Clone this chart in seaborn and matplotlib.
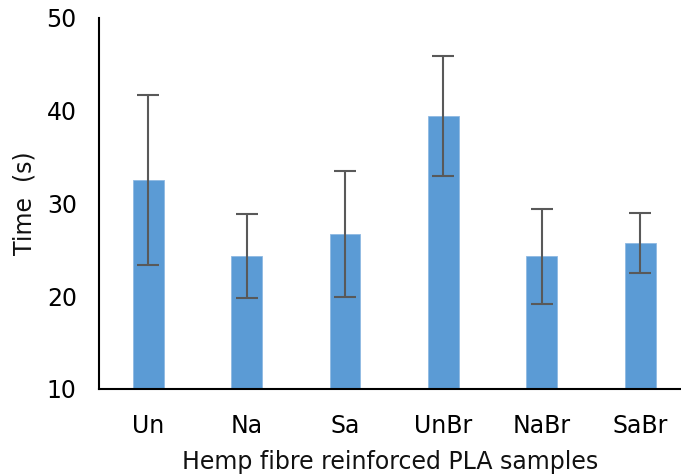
import matplotlib
matplotlib.use("Agg")
import matplotlib.pyplot as plt
import seaborn as sns
import pandas as pd

categories = ["Un", "Na", "Sa", "UnBr", "NaBr", "SaBr"]
means = [32.5, 24.3, 26.7, 39.4, 24.3, 25.7]
errors = [9.2, 4.5, 6.8, 6.5, 5.1, 3.25]
yticks = [10, 20, 30, 40, 50]

sns.set_theme(style="white")
plt.rcParams["font.family"] = ["DejaVu Sans"]

df = pd.DataFrame({"sample": categories, "time": means, "err": errors})

fig = plt.figure(figsize=(6.81, 4.76), dpi=100)
ax = fig.add_axes([99/681, (476-389)/476, (681-99)/681, (389-17.5)/476])

sns.barplot(data=df, x="sample", y="time", color="#5B9BD5", saturation=1,
            width=0.315, ax=ax, errorbar=None)
for p in ax.patches:
    p.set_edgecolor("#8FB9E3")
    p.set_linewidth(0.6)
ax.errorbar(range(len(categories)), df["time"], yerr=df["err"], fmt="none",
            ecolor="#595959", elinewidth=1.5, capsize=8, capthick=1.5)

ax.set_ylim(10, 50)
ax.set_yticks(yticks)
ax.set_xlim(-0.5, -0.5 + 582/98.4)
ax.tick_params(axis="both", length=0, labelsize=17, colors="#000000")
ax.tick_params(axis="y", pad=16)
ax.tick_params(axis="x", pad=18)
ax.set_xlabel("Hemp fibre reinforced PLA samples", fontsize=17, labelpad=9,
              color="#111111")
ax.set_ylabel("Time  (s)", fontsize=17, labelpad=7, color="#111111")
for s in ["top", "right"]:
    ax.spines[s].set_visible(False)
for s in ["left", "bottom"]:
    ax.spines[s].set_color("#000000")
    ax.spines[s].set_linewidth(1.5)

fig.savefig("out.png", dpi=100)
